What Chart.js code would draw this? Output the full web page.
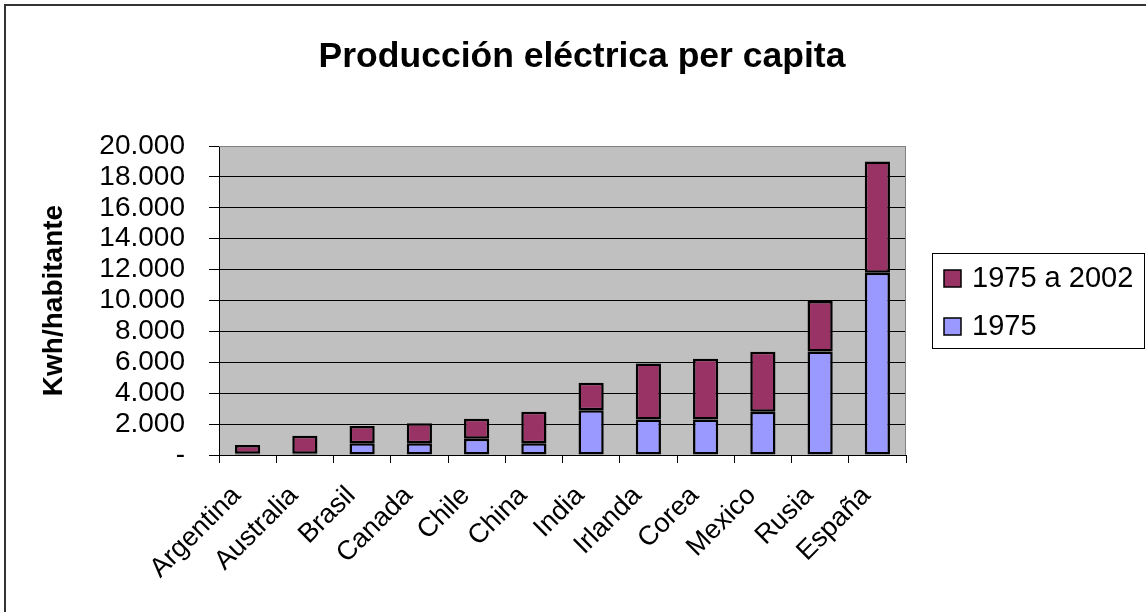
<!DOCTYPE html>
<html>
<head>
<meta charset="utf-8">
<title>Producción eléctrica per capita</title>
<script src="https://cdn.jsdelivr.net/npm/chart.js@4.4.1/dist/chart.umd.min.js"></script>
<style>
  html, body { margin: 0; padding: 0; background: #fff; }
  #wrap { width: 1146px; height: 612px; }
</style>
</head>
<body>
<div id="wrap"><canvas id="chart"></canvas></div>
<script>
// datos
var titulo = "Producción eléctrica per capita";
var paises = ["Argentina", "Australia", "Brasil", "Canada", "Chile", "China",
              "India", "Irlanda", "Corea", "Mexico", "Rusia", "España"];
var prod1975 = [80, 80, 760, 760, 1050, 760, 2900, 2300, 2300, 2800, 6700, 11800];
var aumento1975a2002 = [570, 1170, 1120, 1290, 1300, 2040, 1780, 3630, 3930, 3890, 3270, 7200];
var ejeMax = 20000;
var ejePaso = 2000;

var FUENTE = "'Liberation Sans', Arial, sans-serif";

function formatoMiles(v) {
    if (v === 0) return "-";
    return String(v).replace(/\B(?=(\d{3})+(?!\d))/g, ".");
}

var marco = {
    id: "marco",
    beforeDraw: function (chart) {
        var ctx = chart.ctx, a = chart.chartArea;
        ctx.save();
        ctx.fillStyle = "#fff";
        ctx.fillRect(0, 0, chart.width, chart.height);
        ctx.fillStyle = "#C0C0C0";
        ctx.fillRect(a.left, a.top, a.right - a.left, a.bottom - a.top);
        // borde exterior (solo izquierda y arriba quedan dentro)
        ctx.strokeStyle = "#333";
        ctx.lineWidth = 2;
        ctx.beginPath();
        ctx.moveTo(5, chart.height);
        ctx.lineTo(5, 5);
        ctx.lineTo(chart.width, 5);
        ctx.stroke();
        ctx.restore();
    },
    afterDraw: function (chart) {
        var ctx = chart.ctx, a = chart.chartArea;
        ctx.save();
        // borde gris del area de trazado
        ctx.strokeStyle = "#808080";
        ctx.lineWidth = 1;
        ctx.beginPath();
        ctx.moveTo(a.left, a.top + 0.5);
        ctx.lineTo(a.right - 0.5, a.top + 0.5);
        ctx.lineTo(a.right - 0.5, a.bottom);
        ctx.stroke();

        // titulo
        ctx.fillStyle = "#000";
        ctx.font = "bold 35.5px " + FUENTE;
        ctx.textAlign = "center";
        ctx.textBaseline = "alphabetic";
        ctx.fillText(titulo, 582, 67);

        // leyenda
        ctx.strokeStyle = "#000";
        ctx.lineWidth = 1;
        ctx.strokeRect(932.5, 253.5, 212, 95);
        ctx.font = "29px " + FUENTE;
        ctx.textAlign = "left";
        ctx.textBaseline = "middle";
        var sets = chart.data.datasets.slice().reverse();
        sets.forEach(function (ds, i) {
            var cy = 278 + i * 48;
            ctx.fillStyle = ds.backgroundColor;
            ctx.fillRect(944, cy - 8, 17, 17);
            ctx.lineWidth = 1.5;
            ctx.strokeRect(944, cy - 8, 17, 17);
            ctx.fillStyle = "#000";
            ctx.fillText(ds.label, 972, cy + 1);
        });
        ctx.restore();
    }
};

function MostrarGrafico() {
    var ctx = document.getElementById("chart").getContext("2d");
    new Chart(ctx, {
        type: "bar",
        data: {
            labels: paises,
            datasets: [{
                    label: "1975",
                    data: prod1975,
                    backgroundColor: "#9999FF",
                    borderColor: "#000",
                    borderWidth: 2.5,
                    borderSkipped: false
                },
                {
                    label: "1975 a 2002",
                    data: aumento1975a2002,
                    backgroundColor: "#993366",
                    borderColor: "#000",
                    borderWidth: 2.5,
                    borderSkipped: false
                }
            ]
        },
        options: {
            responsive: true,
            maintainAspectRatio: false,
            animation: false,
            layout: { padding: { top: 146, right: 240, left: 0, bottom: 0 } },
            datasets: { bar: { categoryPercentage: 1, barPercentage: 0.44 } },
            plugins: {
                legend: { display: false },
                title: { display: false },
                tooltip: { enabled: false }
            },
            scales: {
                x: {
                    stacked: true,
                    afterFit: function (s) { s.height = 157; },
                    grid: { drawOnChartArea: false, drawTicks: true, tickLength: 8, color: "#000" },
                    border: { color: "#000", width: 1 },
                    ticks: {
                        minRotation: 45,
                        maxRotation: 45,
                        autoSkip: false,
                        padding: 17,
                        labelOffset: -11,
                        color: "#000",
                        font: { family: FUENTE, size: 27 }
                    }
                },
                y: {
                    stacked: true,
                    min: 0,
                    max: ejeMax,
                    afterFit: function (s) { s.width = 219; },
                    grid: {
                        color: function (c) { return c.tick && c.tick.value === ejeMax ? "#808080" : "#000"; },
                        tickColor: "#000",
                        tickLength: 10,
                        lineWidth: 1
                    },
                    border: { color: "#000", width: 1 },
                    ticks: {
                        stepSize: ejePaso,
                        autoSkip: false,
                        padding: 24,
                        color: "#000",
                        font: { family: FUENTE, size: 28 },
                        callback: function (v) { return formatoMiles(v); }
                    },
                    title: {
                        display: true,
                        text: "Kwh/habitante",
                        color: "#000",
                        padding: { top: 37, bottom: 0 },
                        font: { family: FUENTE, size: 28, weight: "bold" }
                    }
                }
            }
        },
        plugins: [marco]
    });
}

MostrarGrafico();
</script>
</body>
</html>
